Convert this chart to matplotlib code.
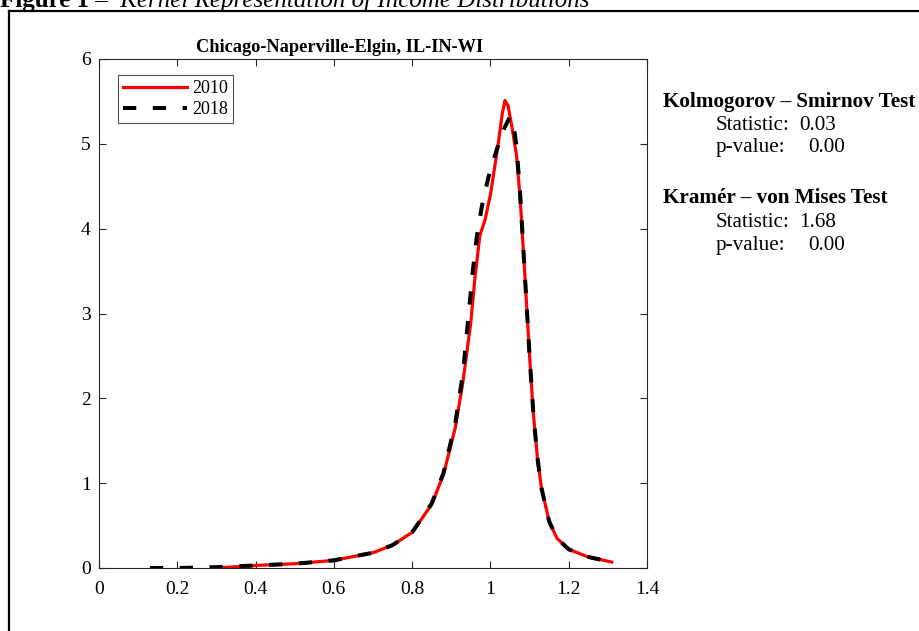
import numpy as np
import matplotlib.pyplot as plt
from matplotlib.lines import Line2D

plt.rcParams['font.family'] = ['Liberation Serif', 'DejaVu Serif']

# kernel densities
x2010 = [0.30, 0.40, 0.50, 0.60, 0.70, 0.75, 0.80, 0.85, 0.88, 0.91, 0.93, 0.95,
         0.96, 0.973, 0.986, 1.00, 1.01, 1.02, 1.03, 1.037, 1.045, 1.055, 1.067,
         1.076, 1.088, 1.10, 1.11, 1.12, 1.13, 1.15, 1.17, 1.20, 1.25, 1.31]
y2010 = [0.00, 0.03, 0.05, 0.09, 0.18, 0.27, 0.42, 0.75, 1.10, 1.65, 2.20, 2.90,
         3.40, 3.92, 4.10, 4.40, 4.70, 5.00, 5.35, 5.51, 5.45, 5.20, 4.85,
         4.35, 3.45, 2.50, 1.80, 1.30, 0.95, 0.55, 0.35, 0.22, 0.13, 0.07]

x2018 = [0.13, 0.20, 0.30, 0.40, 0.50, 0.60, 0.70, 0.75, 0.80, 0.85, 0.88, 0.91,
         0.93, 0.955, 0.965, 0.978, 0.995, 1.016, 1.035, 1.05, 1.06, 1.067,
         1.076, 1.088, 1.10, 1.11, 1.12, 1.13, 1.15, 1.17, 1.20, 1.25, 1.31]
y2018 = [0.00, 0.00, 0.01, 0.03, 0.05, 0.09, 0.18, 0.27, 0.42, 0.76, 1.12, 1.70,
         2.30, 3.50, 3.90, 4.26, 4.61, 4.93, 5.18, 5.32, 5.20, 4.95,
         4.40, 3.45, 2.50, 1.80, 1.30, 0.95, 0.55, 0.35, 0.22, 0.13, 0.07]

title = 'Chicago-Naperville-Elgin, IL-IN-WI'
ks_stat, ks_p = '0.03', '0.00'
cvm_stat, cvm_p = '1.68', '0.00'

W, H = 919, 631
def fx(px): return px / W
def fy(py): return 1 - py / H

fig = plt.figure(figsize=(W / 100, H / 100), dpi=100)

# outer frame of the figure panel
fig.add_artist(Line2D([fx(9), fx(9)], [0, fy(11)], color='black', lw=1.6))
fig.add_artist(Line2D([fx(9), 1], [fy(11), fy(11)], color='black', lw=1.6))

# caption (cut at the top edge, as in the source)
cap = fig.text(0, fy(7), 'Figure 1', fontsize=18, fontweight='bold', va='baseline')
fig.canvas.draw()
end = cap.get_window_extent().x1
fig.text(end / W, fy(7), ' \u2013  Kernel Representation of Income Distributions',
         fontsize=18, style='italic', va='baseline')

ax = fig.add_axes([fx(99), fy(568), 548 / W, 509 / H])
ax.plot(x2010, y2010, color='red', lw=2.3, label='2010')
ax.plot(x2018, y2018, color='black', lw=2.9, ls=(0, (3.3, 4.1)), label='2018')

ax.set_xlim(0, 1.4)
ax.set_ylim(0, 6)
ax.set_xticks(np.arange(0, 1.41, 0.2))
ax.set_xticklabels(['0', '0.2', '0.4', '0.6', '0.8', '1', '1.2', '1.4'])
ax.set_yticks(range(7))
ax.tick_params(direction='in', top=True, right=True, labelsize=14, length=5,
               width=0.8, color='#262626')
ax.tick_params(axis='x', pad=9)
ax.tick_params(axis='y', pad=6)
for s in ax.spines.values():
    s.set_color('#262626')
    s.set_linewidth(0.8)
fig.text(fx(340), fy(52), title, fontsize=13.2, fontweight='bold',
         ha='center', va='baseline')

leg = ax.legend(loc='upper left', bbox_to_anchor=(19 / 548, 1 - 16 / 509), fontsize=13,
                frameon=True, fancybox=False, edgecolor='#262626',
                handlelength=3.5, borderpad=0.3, labelspacing=0.2,
                handletextpad=0.3, borderaxespad=0)
leg.get_frame().set_linewidth(0.8)

# test statistics on the right
fs = 15.2
fig.text(fx(663), fy(107), 'Kolmogorov \u2013 Smirnov Test', fontsize=fs,
         fontweight='bold', va='baseline')
fig.text(fx(716), fy(130), 'Statistic:', fontsize=fs, va='baseline')
fig.text(fx(799), fy(130), ks_stat, fontsize=fs, va='baseline')
fig.text(fx(716), fy(152), 'p-value:', fontsize=fs, va='baseline')
fig.text(fx(808), fy(152), ks_p, fontsize=fs, va='baseline')
fig.text(fx(663), fy(203), 'Kram\u00e9r \u2013 von Mises Test', fontsize=fs,
         fontweight='bold', va='baseline')
fig.text(fx(716), fy(227), 'Statistic:', fontsize=fs, va='baseline')
fig.text(fx(799), fy(227), cvm_stat, fontsize=fs, va='baseline')
fig.text(fx(716), fy(250), 'p-value:', fontsize=fs, va='baseline')
fig.text(fx(808), fy(250), cvm_p, fontsize=fs, va='baseline')

fig.savefig('out.png', dpi=100)
